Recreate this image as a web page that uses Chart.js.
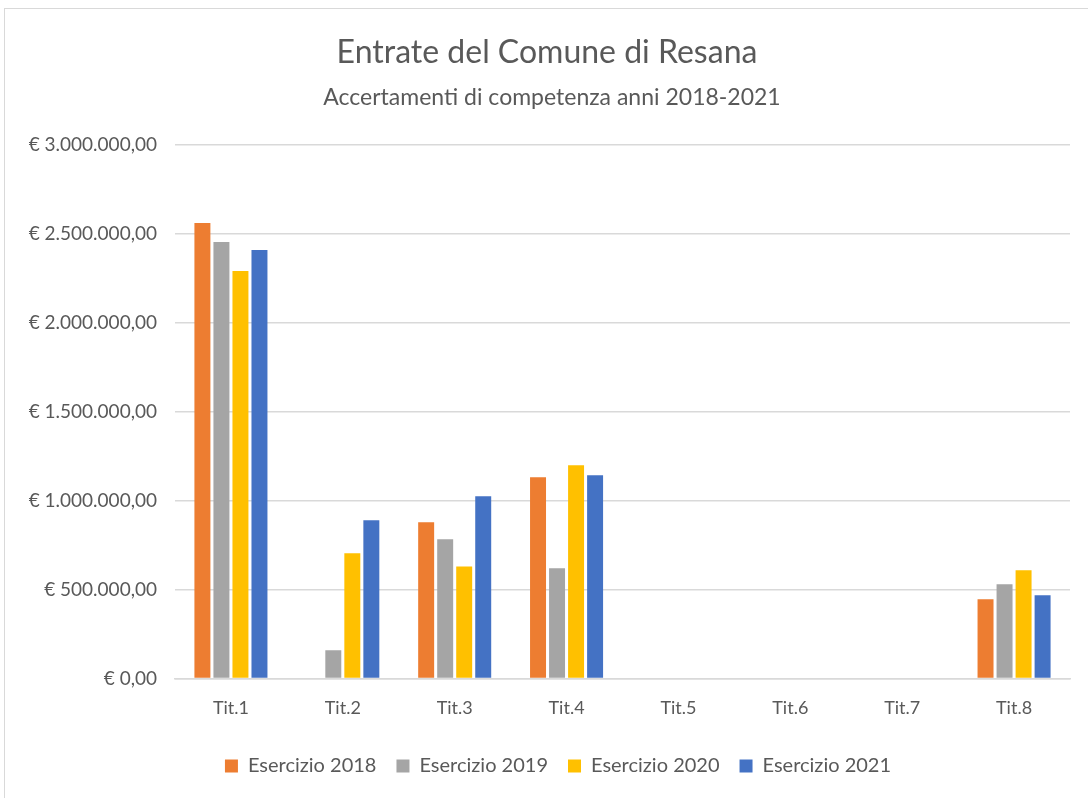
<!DOCTYPE html>
<html lang="it">
<head>
<meta charset="UTF-8">
<title>Entrate del Comune di Resana</title>
<script src="https://cdn.jsdelivr.net/npm/chart.js"></script>
<style>
  html, body { margin: 0; padding: 0; background: #fff; }
  #frame { position: absolute; left: 4px; top: 8px; width: 1100px; height: 800px; border: 1px solid #d9d9d9; box-sizing: border-box; }
  #wrap { position: absolute; left: 0; top: 0; width: 1088px; height: 798px; }
</style>
</head>
<body>
<div id="frame"></div>
<div id="wrap"><canvas id="chart"></canvas></div>
<script>
// categories and series (euro)
const categories = ['Tit.1', 'Tit.2', 'Tit.3', 'Tit.4', 'Tit.5', 'Tit.6', 'Tit.7', 'Tit.8'];
const seriesNames = ['Esercizio 2018', 'Esercizio 2019', 'Esercizio 2020', 'Esercizio 2021'];
const es2018 = [2561000, 0, 878000, 1131000, 0, 0, 0, 445000];
const es2019 = [2454000, 158000, 782000, 619000, 0, 0, 0, 529000];
const es2020 = [2291000, 704000, 630000, 1199000, 0, 0, 0, 608000];
const es2021 = [2409000, 889000, 1024000, 1143000, 0, 0, 0, 467000];
const colors = ['#ED7D31', '#A5A5A5', '#FFC000', '#4472C4'];
const yTicks = [0, 500000, 1000000, 1500000, 2000000, 2500000, 3000000];

const titleText = 'Entrate del Comune di Resana';
const subText = 'Accertamenti di competenza anni 2018-2021';
const fontFam = 'Lato, "Open Sans", sans-serif';
const txt = '#595959';

function euro(v) {
  const int = Math.round(v).toString().replace(/\B(?=(\d{3})+(?!\d))/g, '.');
  return '€ ' + int + ',00';
}

const allSeries = [es2018, es2019, es2020, es2021];
const datasets = seriesNames.map((name, i) => ({
  label: name,
  data: allSeries[i],
  backgroundColor: colors[i],
  barPercentage: 0.84,
  categoryPercentage: 0.68
}));

// Excel centres title and legend on the whole frame, not the canvas; nudge them right
const nudge = {
  id: 'nudge',
  afterLayout(chart) {
    chart.boxes.forEach(b => {
      let dx = 0;
      if (b === chart.legend) dx = 23;
      else if (b.options && b.options.text === titleText) dx = 12;
      else if (b.options && b.options.text === subText) dx = 17;
      b.left += dx;
      b.right += dx;
    });
  }
};

new Chart(document.getElementById('chart'), {
  type: 'bar',
  data: { labels: categories, datasets: datasets },
  plugins: [nudge],
  options: {
    responsive: true,
    maintainAspectRatio: false,
    animation: false,
    layout: { padding: { top: 10, right: 18, bottom: 12, left: 0 } },
    plugins: {
      title: {
        display: true,
        text: titleText,
        color: txt,
        font: { family: fontFam, size: 32, weight: 'normal' },
        padding: { top: 23, bottom: 12 }
      },
      subtitle: {
        display: true,
        text: subText,
        color: txt,
        font: { family: fontFam, size: 23, weight: 'normal' },
        padding: { top: 0, bottom: 34 }
      },
      legend: {
        position: 'bottom',
        labels: {
          color: txt,
          font: { family: fontFam, size: 20 },
          boxWidth: 13,
          boxHeight: 13,
          padding: 20
        }
      },
      tooltip: { enabled: false }
    },
    scales: {
      x: {
        afterFit: s => { s.height += 6; },
        grid: { display: false },
        border: { color: '#d9d9d9', width: 1.5 },
        ticks: { color: txt, font: { family: fontFam, size: 18 }, padding: 11 }
      },
      y: {
        min: 0,
        max: 3000000,
        afterFit: s => { s.width = 175; },
        afterBuildTicks: s => { s.ticks = yTicks.map(v => ({ value: v })); },
        grid: { color: '#d9d9d9', lineWidth: 1.5, drawTicks: false },
        border: { display: false },
        ticks: {
          color: txt,
          font: { family: fontFam, size: 19 },
          padding: 18,
          callback: v => euro(v)
        }
      }
    }
  }
});
</script>
</body>
</html>
